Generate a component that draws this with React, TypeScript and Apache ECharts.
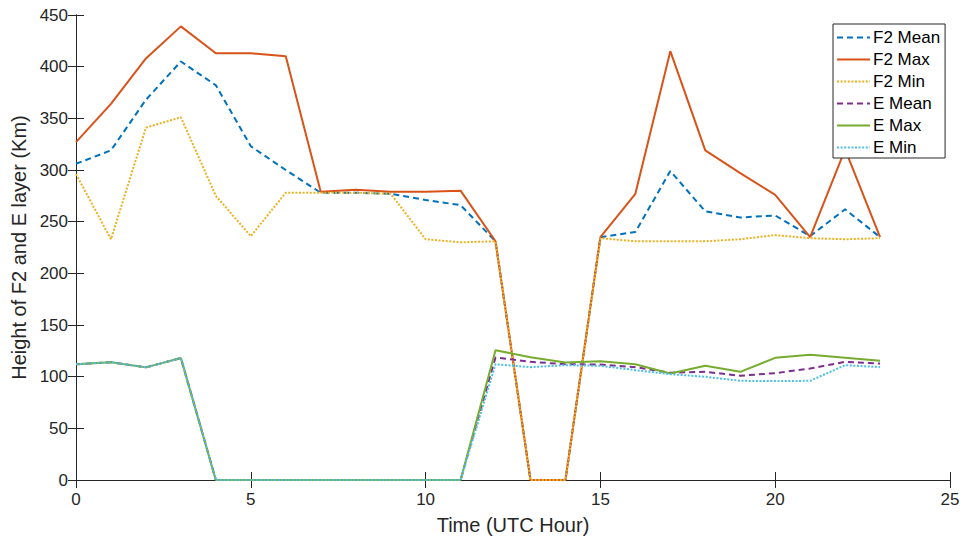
import React, { useEffect, useRef } from "react";
import * as echarts from "echarts";

// Hourly layer heights (Km), UTC hours 0..23
const hours = [0, 1, 2, 3, 4, 5, 6, 7, 8, 9, 10, 11, 12, 13, 14, 15, 16, 17, 18, 19, 20, 21, 22, 23];

const f2Mean = [306, 319, 368, 405, 382, 323, 300, 278, 278, 277, 271, 266, 231, 0, 0, 235, 240, 299, 260, 254, 256, 236, 262, 235];
const f2Max = [327, 364, 408, 439, 413, 413, 410, 279, 281, 279, 279, 280, 231, 0, 0, 235, 277, 415, 319, 297, 276, 235, 320, 235];
const f2Min = [296, 233, 341, 351, 275, 236, 278, 278, 278, 277, 233, 230, 231, 0, 0, 234, 231, 231, 231, 233, 237, 234, 233, 234];

const eMean = [112, 114, 109, 118, 0, 0, 0, 0, 0, 0, 0, 0, 118.5, 114.4, 112, 111.8, 109.2, 103.8, 104.7, 100.9, 103.4, 107.9, 114.4, 112.7];
const eMax = [112, 114, 109, 118, 0, 0, 0, 0, 0, 0, 0, 0, 125.6, 118.8, 113.7, 115, 112, 103.1, 110.5, 104.7, 118.2, 121.1, 118.2, 115.3];
const eMin = [112, 114, 109, 118, 0, 0, 0, 0, 0, 0, 0, 0, 112, 109.2, 111.1, 110.5, 106.3, 102.4, 99.9, 96, 95.7, 96, 111.1, 109.2];

const xTicks = [0, 5, 10, 15, 20, 25];
const yTicks = [0, 50, 100, 150, 200, 250, 300, 350, 400, 450];

const FONT = "'Liberation Sans', Arial, Helvetica, sans-serif";
const AXIS_COLOR = "#262626";

const pair = (ys: number[]) => hours.map((h, i) => [h, ys[i]]);

export default function App() {
  const ref = useRef<HTMLDivElement>(null);

  useEffect(() => {
    if (!ref.current) return;
    const chart = echarts.init(ref.current, undefined, { renderer: "svg" });

    const dashed = [6, 4];
    const dotted = [2, 1.6];

    const mk = (name: string, ys: number[], color: string, type: any) => ({
      name,
      type: "line",
      data: pair(ys),
      symbol: "none",
      xAxisIndex: 0,
      yAxisIndex: 0,
      lineStyle: { color, width: 2, type },
      itemStyle: { color },
      z: 2,
    });

    const axisCommon = {
      axisLine: { show: true, lineStyle: { color: AXIS_COLOR, width: 1 } },
      axisTick: { show: true, inside: true, length: 8, lineStyle: { color: AXIS_COLOR } },
      splitLine: { show: false },
    };

    chart.setOption({
      animation: false,
      backgroundColor: "#ffffff",
      textStyle: { fontFamily: FONT },
      grid: { left: 76, right: 18, top: 15, bottom: 58, containLabel: false },
      xAxis: [
        {
          type: "value",
          min: xTicks[0],
          max: xTicks[xTicks.length - 1],
          interval: 5,
          position: "bottom",
          name: "Time (UTC Hour)",
          nameLocation: "middle",
          nameGap: 35,
          nameTextStyle: { fontSize: 20, color: AXIS_COLOR, fontFamily: FONT },
          axisLabel: { fontSize: 17, color: AXIS_COLOR, margin: 11, fontFamily: FONT },
          ...axisCommon,
        },
        {
          type: "value",
          min: xTicks[0],
          max: xTicks[xTicks.length - 1],
          interval: 5,
          position: "top",
          axisLabel: { show: false },
          ...axisCommon,
        },
      ],
      yAxis: [
        {
          type: "value",
          min: yTicks[0],
          max: yTicks[yTicks.length - 1],
          interval: 50,
          position: "left",
          name: "Height of F2 and E layer (Km)",
          nameLocation: "middle",
          nameGap: 44,
          nameTextStyle: { fontSize: 20, color: AXIS_COLOR, fontFamily: FONT },
          axisLabel: { fontSize: 17, color: AXIS_COLOR, margin: 8, fontFamily: FONT },
          ...axisCommon,
        },
        {
          type: "value",
          min: yTicks[0],
          max: yTicks[yTicks.length - 1],
          interval: 50,
          position: "right",
          axisLabel: { show: false },
          ...axisCommon,
        },
      ],
      legend: {
        orient: "vertical",
        left: 833,
        top: 24,
        padding: [5, 5, 2, 3],
        itemWidth: 33,
        itemHeight: 14,
        itemGap: 5,
        itemStyle: { opacity: 0 },
        backgroundColor: "#ffffff",
        borderColor: AXIS_COLOR,
        borderWidth: 1,
        borderRadius: 0,
        textStyle: {
          fontSize: 17,
          lineHeight: 17,
          color: "#000000",
          fontFamily: FONT,
          padding: [0, 0, 0, -2],
        },
        z: 10,
        data: ["F2 Mean", "F2 Max", "F2 Min", "E Mean", "E Max", "E Min"],
      },
      series: [
        mk("F2 Mean", f2Mean, "#0072BD", dashed),
        mk("F2 Max", f2Max, "#D95319", "solid"),
        mk("F2 Min", f2Min, "#EDB120", dotted),
        mk("E Mean", eMean, "#7E2F8E", dashed),
        mk("E Max", eMax, "#77AC30", "solid"),
        mk("E Min", eMin, "#4DBEEE", dotted),
      ],
    });

    return () => chart.dispose();
  }, []);

  return (
    <div
      ref={ref}
      style={{ position: "fixed", left: 0, top: 0, width: 968, height: 540, background: "#fff" }}
    />
  );
}
